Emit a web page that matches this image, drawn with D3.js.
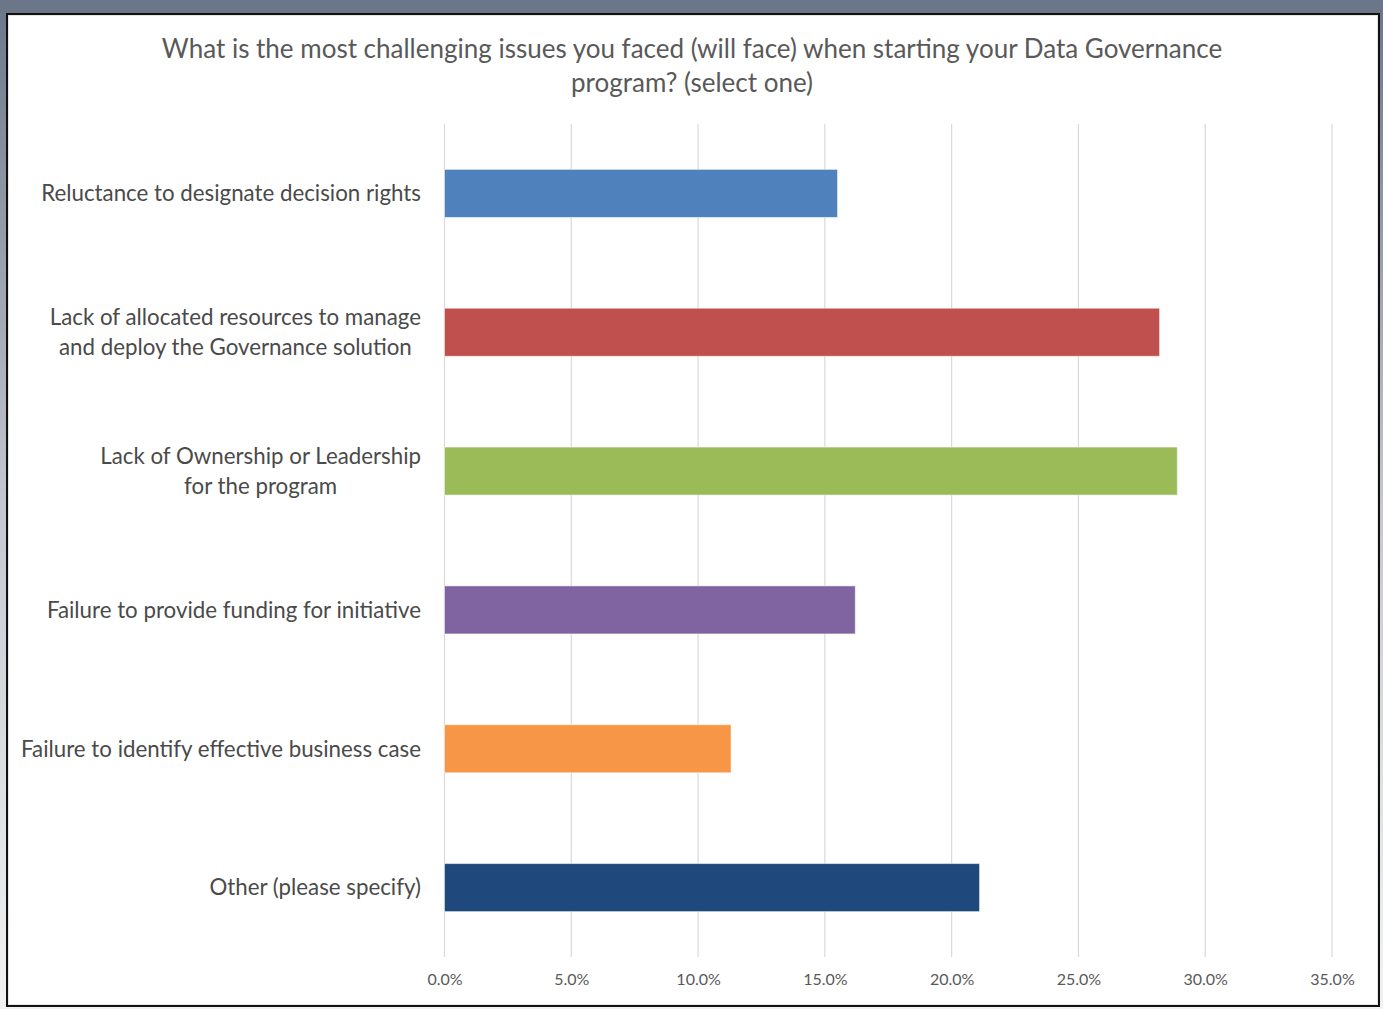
<!DOCTYPE html>
<html>
<head>
<meta charset="utf-8">
<script src="https://cdn.jsdelivr.net/npm/d3@7"></script>
<style>
  html, body { margin: 0; padding: 0; background: #ffffff; }
  svg { display: block; }
  text { font-family: Lato, "Open Sans", sans-serif; }
</style>
</head>
<body>
<svg id="chart" width="1383" height="1009"></svg>
<script>
// ---- data ----
const titleLines = [
  "What is the most challenging issues you faced (will face) when starting your Data Governance",
  "program? (select one)"
];
const categories = [
  ["Reluctance to designate decision rights"],
  ["Lack of allocated resources to manage", "and deploy the Governance solution"],
  ["Lack of Ownership or Leadership", "for the program"],
  ["Failure to provide funding for initiative"],
  ["Failure to identify effective business case"],
  ["Other (please specify)"]
];
const values = [0.155, 0.282, 0.289, 0.162, 0.113, 0.211];
const barColors = ["#4f81bd", "#c0504d", "#9bbb59", "#8064a2", "#f79646", "#1f497d"];
const tickValues = [0, 0.05, 0.10, 0.15, 0.20, 0.25, 0.30, 0.35];

// ---- drawing ----
const W = 1383, H = 1009;
const svg = d3.select("#chart");
const defs = svg.append("defs");

const side = defs.append("linearGradient").attr("id", "sideGrad")
  .attr("x1", 0).attr("y1", 0).attr("x2", 0).attr("y2", 1);
side.append("stop").attr("offset", "0%").attr("stop-color", "#6b7789");
side.append("stop").attr("offset", "50%").attr("stop-color", "#c4c8ce");
side.append("stop").attr("offset", "100%").attr("stop-color", "#f2f2f2");

// window background
svg.append("rect").attr("x", 0).attr("y", 0).attr("width", W).attr("height", H).attr("fill", "url(#sideGrad)");
svg.append("rect").attr("x", 0).attr("y", 0).attr("width", W).attr("height", 13).attr("fill", "#6b7789");

// chart frame
svg.append("rect").attr("x", 7).attr("y", 14).attr("width", 1372).attr("height", 992)
  .attr("fill", "#ffffff").attr("stroke", "#111111").attr("stroke-width", 2);
svg.append("rect").attr("x", 8.5).attr("y", 15.5).attr("width", 1369).attr("height", 989)
  .attr("fill", "none").attr("stroke", "#e6e6e6").attr("stroke-width", 1);

const x = d3.scaleLinear().domain([0, 0.35]).range([444.5, 1332]);
const y = d3.scaleBand().domain(d3.range(categories.length)).range([124, 957])
  .paddingInner(0.654).paddingOuter(0.327);

// gridlines
svg.append("g").selectAll("line").data(tickValues).join("line")
  .attr("x1", d => x(d)).attr("x2", d => x(d))
  .attr("y1", 124).attr("y2", 957)
  .attr("stroke", "#d9d9d9").attr("stroke-width", 1.2);

// x axis labels
const xAxis = d3.axisBottom(x).tickValues(tickValues).tickFormat(d3.format(".1%")).tickSize(0).tickPadding(0);
const gx = svg.append("g").attr("transform", "translate(0,974)").call(xAxis);
gx.select(".domain").remove();
gx.selectAll("text").attr("fill", "#595959").attr("font-size", 16)
  .attr("font-family", "Lato, 'Open Sans', sans-serif");

// bars
svg.append("g").selectAll("rect").data(values).join("rect")
  .attr("x", x(0)).attr("y", (d, i) => y(i))
  .attr("width", d => x(d) - x(0)).attr("height", y.bandwidth())
  .attr("fill", (d, i) => barColors[i])
  .attr("stroke", "rgba(255,255,255,0.5)").attr("stroke-width", 1);

// category labels
const lineH = 29.5;
const lab = svg.append("g").selectAll("text").data(categories).join("text")
  .attr("text-anchor", "middle")
  .attr("fill", "#4a4a4a").attr("font-size", 22.3)
  .attr("transform", (d, i) => `translate(0,${y(i) + y.bandwidth() / 2})`);
lab.each(function(lines) {
  const t = d3.select(this);
  const n = lines.length;
  lines.forEach((s, k) => {
    t.append("tspan").attr("y", (k - (n - 1) / 2) * lineH).attr("dy", "0.35em").text(s);
  });
});
// wrapped lines are centred on each other, block right-aligned to the axis
lab.each(function() {
  const t = d3.select(this);
  const spans = t.selectAll("tspan").nodes();
  const maxW = d3.max(spans, s => s.getComputedTextLength());
  t.selectAll("tspan").attr("x", 421 - maxW / 2);
});

// title
svg.append("g").selectAll("text").data(titleLines).join("text")
  .attr("x", 692).attr("y", (d, i) => 49 + i * 34).attr("dy", "0.35em")
  .attr("text-anchor", "middle").attr("fill", "#595959").attr("font-size", 26)
  .text(d => d);
</script>
</body>
</html>
